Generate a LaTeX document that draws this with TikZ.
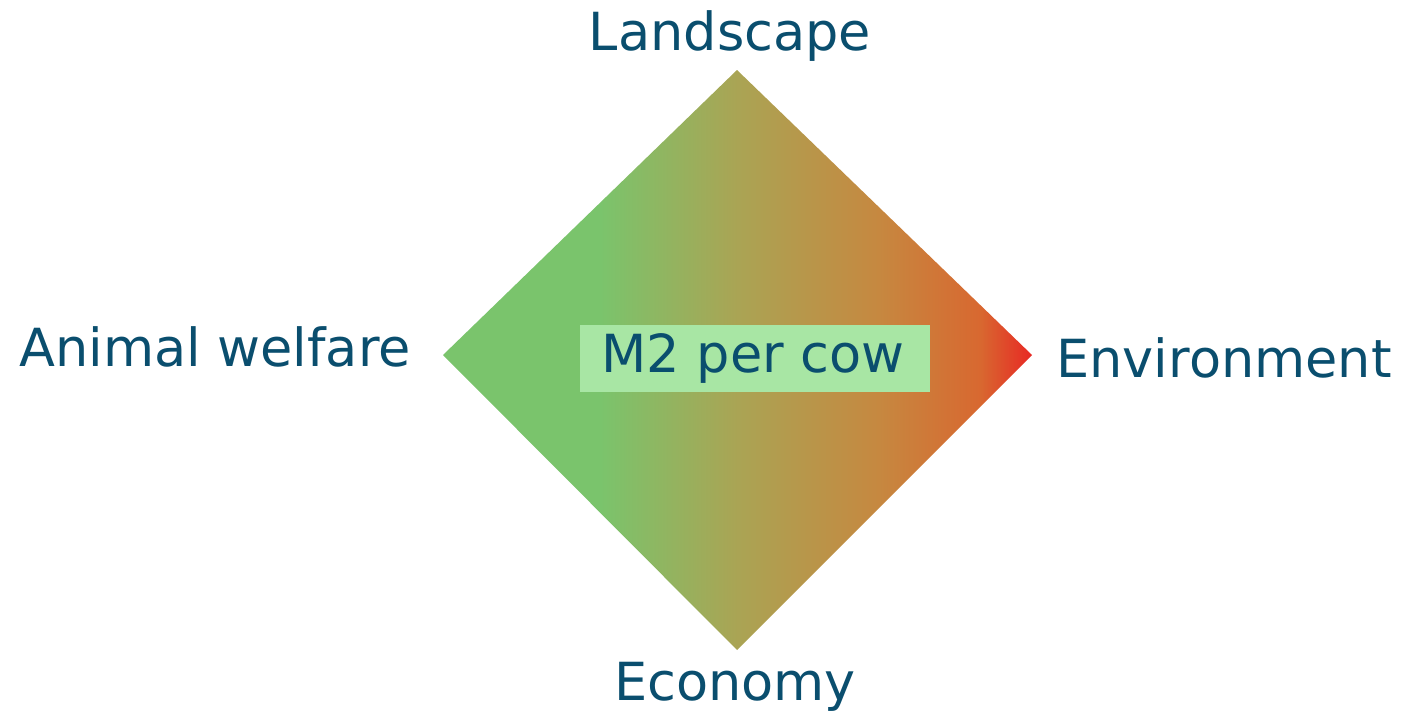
\documentclass[tikz,border=0pt]{standalone}
\usepackage{fontspec}
\setmainfont{DejaVu Sans}
\definecolor{labelblue}{RGB}{10,78,110}
\definecolor{boxgreen}{RGB}{168,230,164}
\definecolor{gA}{RGB}{122,196,108}
\definecolor{gB}{RGB}{170,164,84}
\definecolor{gC}{RGB}{198,136,64}
\definecolor{gD}{RGB}{216,104,48}
\definecolor{gE}{RGB}{232,40,36}
\pgfdeclarehorizontalshading{diamondshade}{100bp}{
  color(0bp)=(gA); color(25bp)=(gA); color(38.3bp)=(gA);
  color(50bp)=(gB); color(62bp)=(gC); color(70.6bp)=(gD);
  color(75bp)=(gE); color(100bp)=(gE)}
\begin{document}
\begin{tikzpicture}[x=1pt,y=-1pt,
  lbl/.style={inner sep=0pt,anchor=base,text=labelblue,font=\fontsize{52.5}{60}\selectfont}]
\useasboundingbox (0,0) rectangle (1402,712);
\coordinate (T) at (737,70);
\coordinate (R) at (1032,355);
\coordinate (B) at (737,650);
\coordinate (L) at (443,355);
\shade[shading=diamondshade] (T) -- (R) -- (B) -- (L) -- cycle;
\node[fill=boxgreen,minimum width=350pt,minimum height=67pt,inner sep=0pt] (box) at (755,358.5) {};
\node[lbl] (center) at (753,372) {M2 per cow};
\node[lbl] (top) at (730,50) {Landscape};
\node[lbl] (left) at (215,366) {Animal welfare};
\node[lbl] (right) at (1224,377) {Environment};
\node[lbl] (bottom) at (735,700) {Economy};
\end{tikzpicture}
\end{document}
